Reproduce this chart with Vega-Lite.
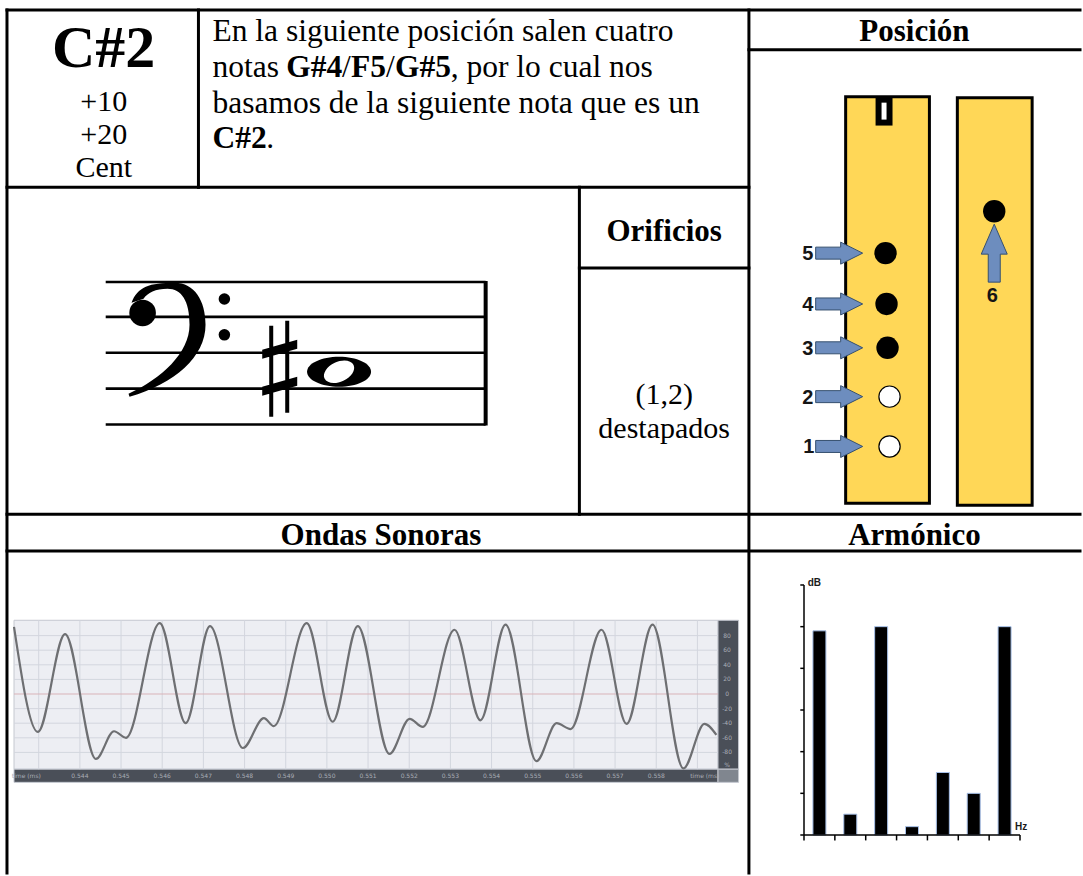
{
  "$schema": "https://vega.github.io/schema/vega-lite/v6.json",
  "width": 1083,
  "height": 876,
  "autosize": {"type": "fit", "contains": "padding"},
  "padding": 0,
  "background": "white",
  "config": {"view": {"stroke": null}},
  "datasets": {
    "table": [
      {"x": 7, "y": 10, "x2": 1083, "y2": 10},
      {"x": 7, "y": 10, "x2": 7, "y2": 876},
      {"x": 199, "y": 10, "x2": 199, "y2": 188},
      {"x": 751, "y": 10, "x2": 751, "y2": 876},
      {"x": 751, "y": 50, "x2": 1083, "y2": 50},
      {"x": 7, "y": 188, "x2": 751, "y2": 188},
      {"x": 581, "y": 188, "x2": 581, "y2": 516},
      {"x": 581, "y": 269, "x2": 751, "y2": 269},
      {"x": 7, "y": 516, "x2": 1083, "y2": 516},
      {"x": 7, "y": 553, "x2": 1083, "y2": 553}
    ],
    "staff": [
      {"x": 106, "x2": 487, "y": 283},
      {"x": 106, "x2": 487, "y": 318},
      {"x": 106, "x2": 487, "y": 354},
      {"x": 106, "x2": 487, "y": 390},
      {"x": 106, "x2": 487, "y": 426}
    ],
    "barline": [{"x": 487, "y": 282, "y2": 427}],
    "glyphs": [
      {"kind": "clef", "x": 170, "y": 340},
      {"kind": "sharp", "x": 280, "y": 370},
      {"kind": "note", "x": 340, "y": 373}
    ],
    "noteHole": [{"kind": "hole", "x": 340, "y": 373}],
    "clefBlob": [{"x": 143, "y": 314}],
    "clefDots": [{"x": 225, "y": 300}, {"x": 225, "y": 336}],
    "flute": [
      {"x": 848, "x2": 932, "y": 97, "y2": 505},
      {"x": 960, "x2": 1035, "y": 98, "y2": 507}
    ],
    "slot": [{"x": 878, "x2": 895, "y": 97, "y2": 126}],
    "slotInner": [{"x": 884, "x2": 889, "y": 103, "y2": 120}],
    "holes": [
      {"n": "1", "x": 892, "y": 448, "state": "destapado"},
      {"n": "2", "x": 892, "y": 398, "state": "destapado"},
      {"n": "3", "x": 890, "y": 349, "state": "tapado"},
      {"n": "4", "x": 889, "y": 305, "state": "tapado"},
      {"n": "5", "x": 888, "y": 254, "state": "tapado"},
      {"n": "6", "x": 997, "y": 212, "state": "tapado"}
    ],
    "arrows": [
      {"n": "1", "kind": "right", "x": 841, "y": 448},
      {"n": "2", "kind": "right", "x": 841, "y": 398},
      {"n": "3", "kind": "right", "x": 841, "y": 349},
      {"n": "4", "kind": "right", "x": 841, "y": 305},
      {"n": "5", "kind": "right", "x": 841, "y": 254},
      {"n": "6", "kind": "up", "x": 997, "y": 254}
    ],
    "arrowNums": [
      {"n": "1", "x": 811, "y": 455},
      {"n": "2", "x": 810, "y": 405},
      {"n": "3", "x": 810, "y": 356},
      {"n": "4", "x": 810, "y": 312},
      {"n": "5", "x": 810, "y": 261},
      {"n": "6", "x": 995, "y": 303}
    ],
    "big": [{"t": "C#2", "x": 104, "y": 67}],
    "cellText": [
      {"t": "+10", "x": 104, "y": 111},
      {"t": "+20", "x": 104, "y": 144},
      {"t": "Cent", "x": 104, "y": 178},
      {"t": "(1,2)", "x": 666, "y": 405},
      {"t": "destapados", "x": 666, "y": 440}
    ],
    "headers": [
      {"t": "Posición", "x": 917, "y": 41},
      {"t": "Orificios", "x": 666, "y": 242},
      {"t": "Ondas Sonoras", "x": 382, "y": 547},
      {"t": "Armónico", "x": 917, "y": 547}
    ],
    "paraRegular": [
      {"t": "En la siguiente posición salen cuatro", "x": 213, "y": 41},
      {"t": "notas", "x": 213, "y": 77},
      {"t": "/", "x": 343, "y": 77},
      {"t": "/", "x": 387, "y": 77},
      {"t": ", por lo cual nos", "x": 452, "y": 77},
      {"t": "basamos de la siguiente nota que es un", "x": 213, "y": 113},
      {"t": ".", "x": 267, "y": 149}
    ],
    "paraBold": [
      {"t": "G#4", "x": 287, "y": 77},
      {"t": "F5", "x": 352, "y": 77},
      {"t": "G#5", "x": 396, "y": 77},
      {"t": "C#2", "x": 213, "y": 149}
    ],
    "panels": [
      {"part": "plot", "t0": 0.5424, "t1": 0.5595, "a0": -103, "a1": 101},
      {"part": "bottomBar", "t0": 0.5424, "t1": 0.5595, "a0": -121, "a1": -103},
      {"part": "rightBar", "t0": 0.5595, "t1": 0.56, "a0": -103, "a1": 101},
      {"part": "corner", "t0": 0.5595, "t1": 0.56, "a0": -121, "a1": -103}
    ],
    "vgrid": [
      {"t": 0.543}, {"t": 0.544}, {"t": 0.545}, {"t": 0.546}, {"t": 0.547}, {"t": 0.548},
      {"t": 0.549}, {"t": 0.55}, {"t": 0.551}, {"t": 0.552}, {"t": 0.553}, {"t": 0.554},
      {"t": 0.555}, {"t": 0.556}, {"t": 0.557}, {"t": 0.558}, {"t": 0.559}
    ],
    "hgrid": [
      {"a": -80}, {"a": -60}, {"a": -40}, {"a": -20}, {"a": 20}, {"a": 40}, {"a": 60}, {"a": 80}
    ],
    "zeroLine": [{"a": 0}],
    "xlabels": [
      {"t": 0.5427, "label": "time (ms)"},
      {"t": 0.544, "label": "0.544"}, {"t": 0.545, "label": "0.545"}, {"t": 0.546, "label": "0.546"},
      {"t": 0.547, "label": "0.547"}, {"t": 0.548, "label": "0.548"}, {"t": 0.549, "label": "0.549"},
      {"t": 0.55, "label": "0.550"}, {"t": 0.551, "label": "0.551"}, {"t": 0.552, "label": "0.552"},
      {"t": 0.553, "label": "0.553"}, {"t": 0.554, "label": "0.554"}, {"t": 0.555, "label": "0.555"},
      {"t": 0.556, "label": "0.556"}, {"t": 0.557, "label": "0.557"}, {"t": 0.558, "label": "0.558"},
      {"t": 0.55918, "label": "time (ms)"}
    ],
    "ylabels": [
      {"a": 80, "label": "80"}, {"a": 60, "label": "60"}, {"a": 40, "label": "40"},
      {"a": 20, "label": "20"}, {"a": 0, "label": "0"}, {"a": -20, "label": "-20"},
      {"a": -40, "label": "-40"}, {"a": -60, "label": "-60"}, {"a": -80, "label": "-80"},
      {"a": -97, "label": "%"}
    ],
    "wave": [
      {"t": 0.5424, "amp": 92}, {"t": 0.54298, "amp": -52}, {"t": 0.54364, "amp": 82},
      {"t": 0.54439, "amp": -89}, {"t": 0.54483, "amp": -51}, {"t": 0.54512, "amp": -60},
      {"t": 0.54594, "amp": 97}, {"t": 0.54657, "amp": -40}, {"t": 0.54716, "amp": 93},
      {"t": 0.54796, "amp": -74}, {"t": 0.54847, "amp": -33}, {"t": 0.54871, "amp": -44},
      {"t": 0.54951, "amp": 97}, {"t": 0.55014, "amp": -38}, {"t": 0.55075, "amp": 93},
      {"t": 0.55152, "amp": -82}, {"t": 0.55201, "amp": -34}, {"t": 0.55233, "amp": -45},
      {"t": 0.5531, "amp": 88}, {"t": 0.55373, "amp": -36}, {"t": 0.55434, "amp": 95},
      {"t": 0.55509, "amp": -92}, {"t": 0.55558, "amp": -40}, {"t": 0.55592, "amp": -48},
      {"t": 0.55667, "amp": 88}, {"t": 0.55728, "amp": -41}, {"t": 0.55791, "amp": 95},
      {"t": 0.55866, "amp": -102}, {"t": 0.55917, "amp": -41}, {"t": 0.55946, "amp": -56}
    ],
    "harmonics": [
      {"h": 1, "db": 4.9}, {"h": 2, "db": 0.5}, {"h": 3, "db": 5}, {"h": 4, "db": 0.2},
      {"h": 5, "db": 1.5}, {"h": 6, "db": 1}, {"h": 7, "db": 5}
    ],
    "axes": [
      {"h": 0.5, "h2": 0.5, "v": 0, "v2": 6},
      {"h": 0.5, "h2": 7.5, "v": 0, "v2": 0}
    ],
    "yticks": [{"v": 0}, {"v": 1}, {"v": 2}, {"v": 3}, {"v": 4}, {"v": 5}, {"v": 6}],
    "xticks": [
      {"h": 0.5}, {"h": 1.5}, {"h": 2.5}, {"h": 3.5}, {"h": 4.5}, {"h": 5.5}, {"h": 6.5}, {"h": 7.5}
    ],
    "units": [
      {"u": "dB", "h": 0.62, "v": 6.05},
      {"u": "Hz", "h": 7.34, "v": 0.2}
    ]
  },
  "resolve": {"scale": {"x": "independent", "y": "independent"}},
  "layer": [
    {
      "layer": [
        {
          "data": {"name": "table"},
          "mark": {"type": "rule", "color": "black", "strokeWidth": 3, "strokeCap": "square"},
          "encoding": {
            "x": {"field": "x", "type": "quantitative", "scale": {"domain": [0, 1083], "nice": false, "zero": false}, "axis": null},
            "y": {"field": "y", "type": "quantitative", "scale": {"domain": [0, 876], "nice": false, "zero": false, "reverse": true}, "axis": null},
            "x2": {"field": "x2"},
            "y2": {"field": "y2"}
          }
        },
        {
          "data": {"name": "staff"},
          "mark": {"type": "rule", "color": "black", "strokeWidth": 2.6},
          "encoding": {
            "x": {"field": "x", "type": "quantitative", "scale": {"domain": [0, 1083], "nice": false, "zero": false}, "axis": null},
            "y": {"field": "y", "type": "quantitative", "scale": {"domain": [0, 876], "nice": false, "zero": false, "reverse": true}, "axis": null},
            "x2": {"field": "x2"}
          }
        },
        {
          "data": {"name": "barline"},
          "mark": {"type": "rule", "color": "black", "strokeWidth": 4},
          "encoding": {
            "x": {"field": "x", "type": "quantitative", "scale": {"domain": [0, 1083], "nice": false, "zero": false}, "axis": null},
            "y": {"field": "y", "type": "quantitative", "scale": {"domain": [0, 876], "nice": false, "zero": false, "reverse": true}, "axis": null},
            "y2": {"field": "y2"}
          }
        },
        {
          "data": {"name": "glyphs"},
          "mark": {"type": "point", "filled": true, "fill": "black", "size": 4, "opacity": 1, "strokeWidth": 0},
          "encoding": {
            "x": {"field": "x", "type": "quantitative", "scale": {"domain": [0, 1083], "nice": false, "zero": false}, "axis": null},
            "y": {"field": "y", "type": "quantitative", "scale": {"domain": [0, 876], "nice": false, "zero": false, "reverse": true}, "axis": null},
            "shape": {
              "field": "kind", "type": "nominal", "legend": null,
              "scale": {
                "domain": ["clef", "sharp", "note", "hole", "right", "up"],
                "range": [
                  "M -38,-36 C -32,-52 -20,-56 5,-56 C 25,-56 36,-38 36,-14 C 36,18 5,45 -40,58 L -41,55 C -8,40 20,14 20,-14 C 20,-38 12,-50 -2,-50 C -14,-50 -22,-46 -26,-40 Z",
                  "M -10,-43 L -6,-43 L -6,48 L -10,48 Z M 6,-48 L 10,-48 L 10,44 L 6,44 Z M -17,-19 L 18,-29 L 18,-20 L -17,-10 Z M -17,18 L 18,8 L 18,17 L -17,27 Z",
                  "M -32,0 A 32,15 0 1,0 32,0 A 32,15 0 1,0 -32,0 Z",
                  "M -14.5,6.8 A 16,10 -25 1,0 14.5,-6.8 A 16,10 -25 1,0 -14.5,6.8 Z",
                  "M -23,-6 L 2,-6 L 2,-11 L 24,0 L 2,11 L 2,6 L -23,6 Z",
                  "M -6,29 L -6,1 L -13,1 L 0,-29 L 13,1 L 6,1 L 6,29 Z"
                ]
              }
            }
          }
        },
        {
          "data": {"name": "noteHole"},
          "mark": {"type": "point", "filled": true, "fill": "white", "size": 4, "opacity": 1, "strokeWidth": 0},
          "encoding": {
            "x": {"field": "x", "type": "quantitative", "scale": {"domain": [0, 1083], "nice": false, "zero": false}, "axis": null},
            "y": {"field": "y", "type": "quantitative", "scale": {"domain": [0, 876], "nice": false, "zero": false, "reverse": true}, "axis": null},
            "shape": {
              "field": "kind", "type": "nominal", "legend": null,
              "scale": {
                "domain": ["clef", "sharp", "note", "hole", "right", "up"],
                "range": [
                  "M -38,-36 C -32,-52 -20,-56 5,-56 C 25,-56 36,-38 36,-14 C 36,18 5,45 -40,58 L -41,55 C -8,40 20,14 20,-14 C 20,-38 12,-50 -2,-50 C -14,-50 -22,-46 -26,-40 Z",
                  "M -10,-43 L -6,-43 L -6,48 L -10,48 Z M 6,-48 L 10,-48 L 10,44 L 6,44 Z M -17,-19 L 18,-29 L 18,-20 L -17,-10 Z M -17,18 L 18,8 L 18,17 L -17,27 Z",
                  "M -32,0 A 32,15 0 1,0 32,0 A 32,15 0 1,0 -32,0 Z",
                  "M -14.5,6.8 A 16,10 -25 1,0 14.5,-6.8 A 16,10 -25 1,0 -14.5,6.8 Z",
                  "M -23,-6 L 2,-6 L 2,-11 L 24,0 L 2,11 L 2,6 L -23,6 Z",
                  "M -6,29 L -6,1 L -13,1 L 0,-29 L 13,1 L 6,1 L 6,29 Z"
                ]
              }
            }
          }
        },
        {
          "data": {"name": "clefBlob"},
          "mark": {"type": "point", "shape": "circle", "filled": true, "fill": "black", "size": 707, "opacity": 1, "strokeWidth": 0},
          "encoding": {
            "x": {"field": "x", "type": "quantitative", "scale": {"domain": [0, 1083], "nice": false, "zero": false}, "axis": null},
            "y": {"field": "y", "type": "quantitative", "scale": {"domain": [0, 876], "nice": false, "zero": false, "reverse": true}, "axis": null}
          }
        },
        {
          "data": {"name": "clefDots"},
          "mark": {"type": "point", "shape": "circle", "filled": true, "fill": "black", "size": 133, "opacity": 1, "strokeWidth": 0},
          "encoding": {
            "x": {"field": "x", "type": "quantitative", "scale": {"domain": [0, 1083], "nice": false, "zero": false}, "axis": null},
            "y": {"field": "y", "type": "quantitative", "scale": {"domain": [0, 876], "nice": false, "zero": false, "reverse": true}, "axis": null}
          }
        },
        {
          "data": {"name": "flute"},
          "mark": {"type": "rect", "fill": "#FFD757", "stroke": "black", "strokeWidth": 3},
          "encoding": {
            "x": {"field": "x", "type": "quantitative", "scale": {"domain": [0, 1083], "nice": false, "zero": false}, "axis": null},
            "y": {"field": "y", "type": "quantitative", "scale": {"domain": [0, 876], "nice": false, "zero": false, "reverse": true}, "axis": null},
            "x2": {"field": "x2"},
            "y2": {"field": "y2"}
          }
        },
        {
          "data": {"name": "slot"},
          "mark": {"type": "rect", "fill": "black"},
          "encoding": {
            "x": {"field": "x", "type": "quantitative", "scale": {"domain": [0, 1083], "nice": false, "zero": false}, "axis": null},
            "y": {"field": "y", "type": "quantitative", "scale": {"domain": [0, 876], "nice": false, "zero": false, "reverse": true}, "axis": null},
            "x2": {"field": "x2"},
            "y2": {"field": "y2"}
          }
        },
        {
          "data": {"name": "slotInner"},
          "mark": {"type": "rect", "fill": "white"},
          "encoding": {
            "x": {"field": "x", "type": "quantitative", "scale": {"domain": [0, 1083], "nice": false, "zero": false}, "axis": null},
            "y": {"field": "y", "type": "quantitative", "scale": {"domain": [0, 876], "nice": false, "zero": false, "reverse": true}, "axis": null},
            "x2": {"field": "x2"},
            "y2": {"field": "y2"}
          }
        },
        {
          "data": {"name": "holes"},
          "transform": [{"filter": "datum.state == 'tapado'"}],
          "mark": {"type": "point", "shape": "circle", "filled": true, "fill": "black", "size": 500, "opacity": 1, "strokeWidth": 0},
          "encoding": {
            "x": {"field": "x", "type": "quantitative", "scale": {"domain": [0, 1083], "nice": false, "zero": false}, "axis": null},
            "y": {"field": "y", "type": "quantitative", "scale": {"domain": [0, 876], "nice": false, "zero": false, "reverse": true}, "axis": null}
          }
        },
        {
          "data": {"name": "holes"},
          "transform": [{"filter": "datum.state == 'destapado'"}],
          "mark": {"type": "point", "shape": "circle", "filled": true, "fill": "white", "stroke": "black", "strokeWidth": 1.2, "size": 452, "opacity": 1},
          "encoding": {
            "x": {"field": "x", "type": "quantitative", "scale": {"domain": [0, 1083], "nice": false, "zero": false}, "axis": null},
            "y": {"field": "y", "type": "quantitative", "scale": {"domain": [0, 876], "nice": false, "zero": false, "reverse": true}, "axis": null}
          }
        },
        {
          "data": {"name": "arrows"},
          "mark": {"type": "point", "filled": true, "fill": "#6D8DBE", "stroke": "#36506F", "strokeWidth": 1, "size": 4, "opacity": 1},
          "encoding": {
            "x": {"field": "x", "type": "quantitative", "scale": {"domain": [0, 1083], "nice": false, "zero": false}, "axis": null},
            "y": {"field": "y", "type": "quantitative", "scale": {"domain": [0, 876], "nice": false, "zero": false, "reverse": true}, "axis": null},
            "shape": {
              "field": "kind", "type": "nominal", "legend": null,
              "scale": {
                "domain": ["clef", "sharp", "note", "hole", "right", "up"],
                "range": [
                  "M -38,-36 C -32,-52 -20,-56 5,-56 C 25,-56 36,-38 36,-14 C 36,18 5,45 -40,58 L -41,55 C -8,40 20,14 20,-14 C 20,-38 12,-50 -2,-50 C -14,-50 -22,-46 -26,-40 Z",
                  "M -10,-43 L -6,-43 L -6,48 L -10,48 Z M 6,-48 L 10,-48 L 10,44 L 6,44 Z M -17,-19 L 18,-29 L 18,-20 L -17,-10 Z M -17,18 L 18,8 L 18,17 L -17,27 Z",
                  "M -32,0 A 32,15 0 1,0 32,0 A 32,15 0 1,0 -32,0 Z",
                  "M -14.5,6.8 A 16,10 -25 1,0 14.5,-6.8 A 16,10 -25 1,0 -14.5,6.8 Z",
                  "M -23,-6 L 2,-6 L 2,-11 L 24,0 L 2,11 L 2,6 L -23,6 Z",
                  "M -6,29 L -6,1 L -13,1 L 0,-29 L 13,1 L 6,1 L 6,29 Z"
                ]
              }
            }
          }
        },
        {
          "data": {"name": "arrowNums"},
          "mark": {"type": "text", "font": "Liberation Sans", "fontSize": 20, "fontWeight": "bold", "color": "#151515", "align": "center", "baseline": "alphabetic"},
          "encoding": {
            "x": {"field": "x", "type": "quantitative", "scale": {"domain": [0, 1083], "nice": false, "zero": false}, "axis": null},
            "y": {"field": "y", "type": "quantitative", "scale": {"domain": [0, 876], "nice": false, "zero": false, "reverse": true}, "axis": null},
            "text": {"field": "n"}
          }
        },
        {
          "data": {"name": "big"},
          "mark": {"type": "text", "font": "Liberation Serif", "fontSize": 60, "fontWeight": "bold", "color": "black", "align": "center", "baseline": "alphabetic"},
          "encoding": {
            "x": {"field": "x", "type": "quantitative", "scale": {"domain": [0, 1083], "nice": false, "zero": false}, "axis": null},
            "y": {"field": "y", "type": "quantitative", "scale": {"domain": [0, 876], "nice": false, "zero": false, "reverse": true}, "axis": null},
            "text": {"field": "t"}
          }
        },
        {
          "data": {"name": "cellText"},
          "mark": {"type": "text", "font": "Liberation Serif", "fontSize": 30, "color": "black", "align": "center", "baseline": "alphabetic"},
          "encoding": {
            "x": {"field": "x", "type": "quantitative", "scale": {"domain": [0, 1083], "nice": false, "zero": false}, "axis": null},
            "y": {"field": "y", "type": "quantitative", "scale": {"domain": [0, 876], "nice": false, "zero": false, "reverse": true}, "axis": null},
            "text": {"field": "t"}
          }
        },
        {
          "data": {"name": "headers"},
          "mark": {"type": "text", "font": "Liberation Serif", "fontSize": 31, "fontWeight": "bold", "color": "black", "align": "center", "baseline": "alphabetic"},
          "encoding": {
            "x": {"field": "x", "type": "quantitative", "scale": {"domain": [0, 1083], "nice": false, "zero": false}, "axis": null},
            "y": {"field": "y", "type": "quantitative", "scale": {"domain": [0, 876], "nice": false, "zero": false, "reverse": true}, "axis": null},
            "text": {"field": "t"}
          }
        },
        {
          "data": {"name": "paraRegular"},
          "mark": {"type": "text", "font": "Liberation Serif", "fontSize": 31.5, "color": "black", "align": "left", "baseline": "alphabetic"},
          "encoding": {
            "x": {"field": "x", "type": "quantitative", "scale": {"domain": [0, 1083], "nice": false, "zero": false}, "axis": null},
            "y": {"field": "y", "type": "quantitative", "scale": {"domain": [0, 876], "nice": false, "zero": false, "reverse": true}, "axis": null},
            "text": {"field": "t"}
          }
        },
        {
          "data": {"name": "paraBold"},
          "mark": {"type": "text", "font": "Liberation Serif", "fontSize": 31.5, "fontWeight": "bold", "color": "black", "align": "left", "baseline": "alphabetic"},
          "encoding": {
            "x": {"field": "x", "type": "quantitative", "scale": {"domain": [0, 1083], "nice": false, "zero": false}, "axis": null},
            "y": {"field": "y", "type": "quantitative", "scale": {"domain": [0, 876], "nice": false, "zero": false, "reverse": true}, "axis": null},
            "text": {"field": "t"}
          }
        }
      ]
    },
    {
      "layer": [
        {
          "data": {"name": "panels"},
          "mark": {"type": "rect", "stroke": "#C5C8D0", "strokeWidth": 1},
          "encoding": {
            "x": {"field": "t0", "type": "quantitative", "scale": {"domain": [0.5424, 0.5595], "range": [14, 718], "nice": false, "zero": false}, "axis": null},
            "x2": {"field": "t1"},
            "y": {"field": "a0", "type": "quantitative", "scale": {"domain": [-100, 100], "range": [767, 621], "nice": false, "zero": false}, "axis": null},
            "y2": {"field": "a1"},
            "color": {
              "field": "part", "type": "nominal", "legend": null,
              "scale": {"domain": ["plot", "bottomBar", "rightBar", "corner"], "range": ["#EDEEF3", "#4A4F58", "#4A4F58", "#80868F"]}
            }
          }
        },
        {
          "data": {"name": "vgrid"},
          "mark": {"type": "rule", "color": "#D3D6DE", "strokeWidth": 1},
          "encoding": {
            "x": {"field": "t", "type": "quantitative", "scale": {"domain": [0.5424, 0.5595], "range": [14, 718], "nice": false, "zero": false}, "axis": null},
            "y": {"datum": -103, "type": "quantitative", "scale": {"domain": [-100, 100], "range": [767, 621], "nice": false, "zero": false}, "axis": null},
            "y2": {"datum": 101}
          }
        },
        {
          "data": {"name": "hgrid"},
          "mark": {"type": "rule", "color": "#D3D6DE", "strokeWidth": 1},
          "encoding": {
            "x": {"datum": 0.5424, "type": "quantitative", "scale": {"domain": [0.5424, 0.5595], "range": [14, 718], "nice": false, "zero": false}, "axis": null},
            "x2": {"datum": 0.5595},
            "y": {"field": "a", "type": "quantitative", "scale": {"domain": [-100, 100], "range": [767, 621], "nice": false, "zero": false}, "axis": null}
          }
        },
        {
          "data": {"name": "zeroLine"},
          "mark": {"type": "rule", "color": "#D9B3B8", "strokeWidth": 1},
          "encoding": {
            "x": {"datum": 0.5424, "type": "quantitative", "scale": {"domain": [0.5424, 0.5595], "range": [14, 718], "nice": false, "zero": false}, "axis": null},
            "x2": {"datum": 0.5595},
            "y": {"field": "a", "type": "quantitative", "scale": {"domain": [-100, 100], "range": [767, 621], "nice": false, "zero": false}, "axis": null}
          }
        },
        {
          "data": {"name": "wave"},
          "mark": {"type": "line", "color": "#6E6F72", "strokeWidth": 2.2, "interpolate": "monotone"},
          "encoding": {
            "x": {"field": "t", "type": "quantitative", "scale": {"domain": [0.5424, 0.5595], "range": [14, 718], "nice": false, "zero": false}, "axis": null},
            "y": {"field": "amp", "type": "quantitative", "scale": {"domain": [-100, 100], "range": [767, 621], "nice": false, "zero": false}, "axis": null}
          }
        },
        {
          "data": {"name": "xlabels"},
          "mark": {"type": "text", "font": "DejaVu Sans", "fontSize": 6, "color": "#A9ADB6", "align": "center", "baseline": "middle"},
          "encoding": {
            "x": {"field": "t", "type": "quantitative", "scale": {"domain": [0.5424, 0.5595], "range": [14, 718], "nice": false, "zero": false}, "axis": null},
            "y": {"datum": -112, "type": "quantitative", "scale": {"domain": [-100, 100], "range": [767, 621], "nice": false, "zero": false}, "axis": null},
            "text": {"field": "label"}
          }
        },
        {
          "data": {"name": "ylabels"},
          "mark": {"type": "text", "font": "DejaVu Sans", "fontSize": 6, "color": "#A9ADB6", "align": "center", "baseline": "middle"},
          "encoding": {
            "x": {"datum": 0.55972, "type": "quantitative", "scale": {"domain": [0.5424, 0.5595], "range": [14, 718], "nice": false, "zero": false}, "axis": null},
            "y": {"field": "a", "type": "quantitative", "scale": {"domain": [-100, 100], "range": [767, 621], "nice": false, "zero": false}, "axis": null},
            "text": {"field": "label"}
          }
        }
      ]
    },
    {
      "layer": [
        {
          "data": {"name": "harmonics"},
          "mark": {"type": "bar", "orient": "vertical", "width": 13, "fill": "black", "stroke": "#A7C0E8", "strokeWidth": 1},
          "encoding": {
            "x": {"field": "h", "type": "quantitative", "scale": {"domain": [0.5, 7.5], "range": [799, 1025], "nice": false, "zero": false}, "axis": null},
            "y": {"field": "db", "type": "quantitative", "scale": {"domain": [0, 6], "range": [835, 585], "nice": false, "zero": false}, "axis": null}
          }
        },
        {
          "data": {"name": "axes"},
          "mark": {"type": "rule", "color": "black", "strokeWidth": 1.5},
          "encoding": {
            "x": {"field": "h", "type": "quantitative", "scale": {"domain": [0.5, 7.5], "range": [799, 1025], "nice": false, "zero": false}, "axis": null},
            "x2": {"field": "h2"},
            "y": {"field": "v", "type": "quantitative", "scale": {"domain": [0, 6], "range": [835, 585], "nice": false, "zero": false}, "axis": null},
            "y2": {"field": "v2"}
          }
        },
        {
          "data": {"name": "yticks"},
          "mark": {"type": "rule", "color": "black", "strokeWidth": 1.5},
          "encoding": {
            "x": {"datum": 0.5, "type": "quantitative", "scale": {"domain": [0.5, 7.5], "range": [799, 1025], "nice": false, "zero": false}, "axis": null},
            "x2": {"datum": 0.38},
            "y": {"field": "v", "type": "quantitative", "scale": {"domain": [0, 6], "range": [835, 585], "nice": false, "zero": false}, "axis": null}
          }
        },
        {
          "data": {"name": "xticks"},
          "mark": {"type": "rule", "color": "black", "strokeWidth": 1.5},
          "encoding": {
            "x": {"field": "h", "type": "quantitative", "scale": {"domain": [0.5, 7.5], "range": [799, 1025], "nice": false, "zero": false}, "axis": null},
            "y": {"datum": 0, "type": "quantitative", "scale": {"domain": [0, 6], "range": [835, 585], "nice": false, "zero": false}, "axis": null},
            "y2": {"datum": -0.13}
          }
        },
        {
          "data": {"name": "units"},
          "mark": {"type": "text", "font": "Liberation Sans", "fontSize": 10, "fontWeight": "bold", "color": "#1A1A1A", "align": "left", "baseline": "middle"},
          "encoding": {
            "x": {"field": "h", "type": "quantitative", "scale": {"domain": [0.5, 7.5], "range": [799, 1025], "nice": false, "zero": false}, "axis": null},
            "y": {"field": "v", "type": "quantitative", "scale": {"domain": [0, 6], "range": [835, 585], "nice": false, "zero": false}, "axis": null},
            "text": {"field": "u"}
          }
        }
      ]
    }
  ]
}
